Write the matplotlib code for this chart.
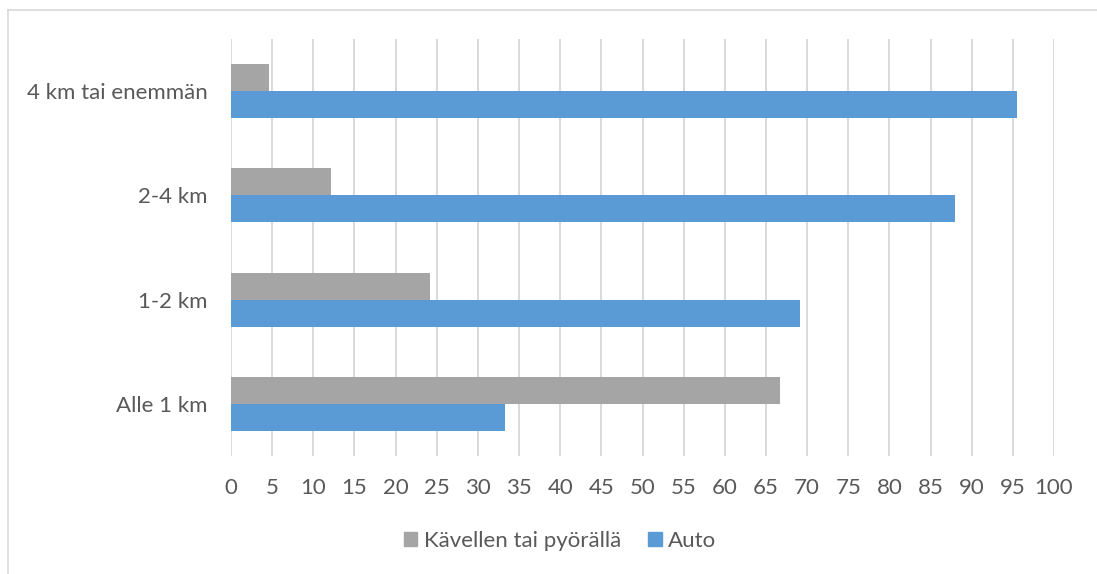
import matplotlib
matplotlib.use("Agg")
import matplotlib.pyplot as plt
from matplotlib.lines import Line2D
from matplotlib.patches import Patch
import numpy as np

categories = ["Alle 1 km", "1-2 km", "2-4 km", "4 km tai enemmän"]
walk_bike = [66.7, 24.2, 12.1, 4.6]
car = [33.3, 69.1, 88.0, 95.5]
series_names = ["Kävellen tai pyörällä", "Auto"]
x_ticks = list(range(0, 101, 5))

GRAY = "#a5a5a5"
BLUE = "#5b9bd5"
TEXT = "#595959"
GRID = "#d9d9d9"

plt.rcParams["font.family"] = ["Lato", "DejaVu Sans"]

fig = plt.figure(figsize=(10.97, 5.74), dpi=100)
ax = fig.add_axes([231 / 1097, 1 - 456 / 574, (1054 - 231) / 1097, (456 - 39) / 574])

y = np.arange(len(categories))
h = 0.26
ax.barh(y + h / 2, walk_bike, height=h, color=GRAY, zorder=3)
ax.barh(y - h / 2, car, height=h, color=BLUE, zorder=3)

ax.set_xlim(0, 100)
ax.set_ylim(-0.5, len(categories) - 0.5)
ax.set_xticks(x_ticks)
ax.set_yticks(y)
ax.set_yticklabels(categories)
ax.xaxis.grid(True, color=GRID, linewidth=1.4, zorder=0)
ax.tick_params(axis="both", length=0, labelsize=16, labelcolor=TEXT)
ax.tick_params(axis="x", pad=16)
ax.tick_params(axis="y", pad=17)
for s in ax.spines.values():
    s.set_visible(False)

handles = [Patch(color=GRAY), Patch(color=BLUE)]
fig.legend(handles, series_names, loc="center", bbox_to_anchor=(560 / 1097, 1 - 541 / 574),
           ncol=2, frameon=False, fontsize=16, labelcolor=TEXT,
           handlelength=0.62, handleheight=0.62, handletextpad=0.3, columnspacing=1.2)

# chart border (only top and left edges visible in frame)
fig.add_artist(Line2D([8 / 1097, 1], [1 - 10 / 574] * 2, color=GRID, lw=1.2))
fig.add_artist(Line2D([8 / 1097] * 2, [0, 1 - 10 / 574], color=GRID, lw=1.2))

fig.savefig("out.png", dpi=100)
